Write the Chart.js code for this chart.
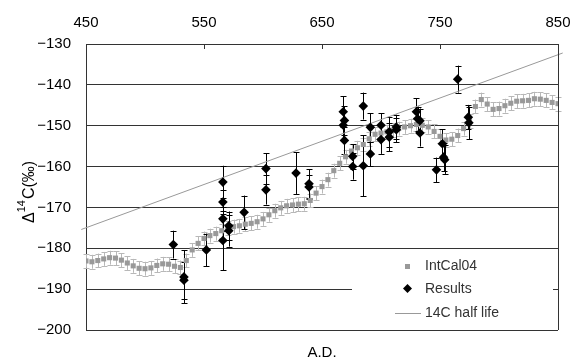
<!DOCTYPE html>
<html>
<head>
<meta charset="utf-8">
<script src="https://cdn.jsdelivr.net/npm/chart.js@4.4.1/dist/chart.umd.min.js"></script>
<style>
  body { margin: 0; background: #fff; }
  canvas { display: block; }
</style>
</head>
<body>
<canvas id="c14Chart" width="572" height="360"></canvas>
<script>
// IntCal04 calibration curve, every 5 years
const intcalYears = [
  450, 455, 460, 465, 470, 475, 480, 485, 490, 495,
  500, 505, 510, 515, 520, 525, 530, 535, 540, 545,
  550, 555, 560, 565, 570, 575, 580, 585, 590, 595,
  600, 605, 610, 615, 620, 625, 630, 635, 640, 645,
  650, 655, 660, 665, 670, 675, 680, 685, 690, 695,
  700, 705, 710, 715, 720, 725, 730, 735, 740, 745,
  750, 755, 760, 765, 770, 775, 780, 785, 790, 795,
  800, 805, 810, 815, 820, 825, 830, 835, 840, 845,
  850
];
const intcalValues = [
  -183.1, -183.3, -183.0, -182.6, -182.3, -182.4, -182.9, -183.6, -184.3, -184.9,
  -185.0, -184.8, -184.2, -183.8, -183.9, -184.4, -184.7, -183.0, -180.4, -178.8,
  -177.6, -176.9, -176.4, -175.7, -175.1, -174.7, -174.5, -174.1, -173.9, -173.5,
  -172.8, -171.8, -170.8, -170.1, -169.6, -169.4, -169.2, -169.1, -168.3, -166.5,
  -164.9, -163.2, -161.0, -159.2, -157.6, -156.2, -155.4, -154.6, -153.2, -152.1,
  -151.8, -151.5, -151.1, -150.7, -150.3, -150.0, -149.7, -149.9, -150.3, -151.4,
  -152.6, -153.5, -153.3, -152.4, -150.7, -148.8, -145.3, -143.6, -144.7, -146.0,
  -145.8, -145.1, -144.5, -144.0, -143.9, -143.8, -143.4, -143.5, -143.8, -144.3,
  -144.6
];
const intcalError = 1.7;

// measured results
const resultYears = [
  524, 533, 533, 552, 566, 566, 566, 566, 571, 571,
  584, 602.5, 602.5, 628, 639, 639, 668, 669, 668, 669,
  685, 676, 676, 685, 691, 691, 700, 700, 707, 707,
  713, 713, 730, 731, 733, 733, 747, 752, 753, 754,
  765, 774, 774.5
];
const resultValues = [
  -179.1, -187.0, -187.8, -180.4, -163.8, -168.7, -172.8, -178.1, -174.5, -175.7,
  -171.2, -160.5, -165.7, -161.6, -164.2, -165.0, -146.6, -148.7, -149.9, -153.6,
  -145.2, -157.5, -160.0, -159.8, -150.4, -156.9, -149.9, -153.4, -151.5, -152.8,
  -150.3, -151.0, -146.6, -148.3, -148.8, -151.8, -160.8, -154.4, -157.7, -158.3,
  -138.6, -147.9, -149.3
];
const resultErrors = [
  3.4, 6.5, 4.5, 4.0, 4.0, 3.0, 3.0, 7.3, 3.5, 3.9,
  4.1, 3.8, 3.6, 5.1, 3.5, 3.0, 3.8, 3.5, 3.5, 3.3,
  3.3, 3.0, 3.2, 7.5, 3.5, 3.0, 3.0, 3.5, 3.6, 3.4,
  3.0, 3.0, 3.3, 3.0, 3.0, 3.3, 3.0, 3.5, 3.5, 3.5,
  3.3, 3.0, 4.0
];

// 14C half life reference line
const halfLifeYears = [446, 854];
const halfLifeValues = [-175.4, -132.2];

const xTicks = [450, 550, 650, 750, 850];
const yMin = -200, yMax = -130;

const FONT = '"Liberation Sans", Arial, sans-serif';

function toPoints(xs, ys) {
  return xs.map((v, i) => ({ x: v, y: ys[i] }));
}

function drawErrorBars(ctx, xs, ys, xVals, yVals, errs, color) {
  ctx.save();
  ctx.strokeStyle = color;
  ctx.lineWidth = 1;
  ctx.beginPath();
  xVals.forEach((v, i) => {
    const px = Math.round(xs.getPixelForValue(v)) + 0.5;
    const top = ys.getPixelForValue(yVals[i] + errs[i]);
    const bot = ys.getPixelForValue(yVals[i] - errs[i]);
    ctx.moveTo(px, top); ctx.lineTo(px, bot);
    ctx.moveTo(px - 3, Math.round(top) + 0.5); ctx.lineTo(px + 3, Math.round(top) + 0.5);
    ctx.moveTo(px - 3, Math.round(bot) + 0.5); ctx.lineTo(px + 3, Math.round(bot) + 0.5);
  });
  ctx.stroke();
  ctx.restore();
}

const extras = {
  id: 'extras',
  beforeDatasetsDraw(chart) {
    const { ctx, scales: { x, y } } = chart;
    drawErrorBars(ctx, x, y, intcalYears, intcalValues, intcalYears.map(() => intcalError), '#b8b8b8');
    drawErrorBars(ctx, x, y, resultYears, resultValues, resultErrors, '#000');
  },
  afterDraw(chart) {
    const { ctx, chartArea: a, scales: { x } } = chart;
    ctx.save();
    // right frame line
    ctx.strokeStyle = '#333';
    ctx.lineWidth = 1;
    ctx.beginPath();
    ctx.moveTo(Math.round(a.right) + 0.5, a.top);
    ctx.lineTo(Math.round(a.right) + 0.5, a.bottom);
    // inner ticks on top axis
    xTicks.slice(1, -1).forEach(v => {
      const px = Math.round(x.getPixelForValue(v)) + 0.5;
      ctx.moveTo(px, a.top);
      ctx.lineTo(px, a.top + 5);
    });
    ctx.stroke();

    // legend box
    ctx.fillStyle = '#fff';
    ctx.fillRect(352, 253, 201, 70);
    ctx.font = '14px ' + FONT;
    ctx.textBaseline = 'middle';
    ctx.fillStyle = '#999';
    ctx.fillRect(405, 264, 5, 5);
    ctx.fillStyle = '#000';
    ctx.beginPath();
    ctx.moveTo(407.5, 284); ctx.lineTo(412, 288.5); ctx.lineTo(407.5, 293); ctx.lineTo(403, 288.5);
    ctx.closePath(); ctx.fill();
    ctx.strokeStyle = '#999';
    ctx.beginPath();
    ctx.moveTo(395, 313.5); ctx.lineTo(421, 313.5);
    ctx.stroke();
    ctx.fillStyle = '#333';
    ctx.fillText('IntCal04', 425, 266);
    ctx.fillText('Results', 425, 289);
    ctx.fillText('14C half life', 425, 313);

    // x title
    ctx.fillStyle = '#000';
    ctx.textAlign = 'center';
    ctx.textBaseline = 'alphabetic';
    ctx.font = '15px ' + FONT;
    ctx.fillText('A.D.', (a.left + a.right) / 2, 357);

    // y title, rotated, with superscript
    ctx.translate(34, 223);
    ctx.rotate(-Math.PI / 2);
    ctx.textAlign = 'left';
    ctx.font = '16px ' + FONT;
    ctx.fillText('\u0394', 0, 0);
    let w = ctx.measureText('\u0394').width;
    ctx.font = '11px ' + FONT;
    ctx.fillText('14', w, -9);
    w += ctx.measureText('14').width + 1;
    ctx.font = '16px ' + FONT;
    ctx.fillText('C(\u2030)', w, 0);
    ctx.restore();
  }
};

const ctx = document.getElementById('c14Chart').getContext('2d');
const chart = new Chart(ctx, {
  type: 'scatter',
  data: {
    datasets: [{
      label: 'IntCal04',
      data: toPoints(intcalYears, intcalValues),
      pointStyle: 'rect',
      pointRadius: 3.6,
      backgroundColor: '#999',
      borderWidth: 0,
      order: 2
    }, {
      label: 'Results',
      data: toPoints(resultYears, resultValues),
      pointStyle: 'rectRot',
      pointRadius: 4.8,
      backgroundColor: '#000',
      borderWidth: 0,
      order: 1
    }, {
      label: '14C half life',
      type: 'line',
      data: toPoints(halfLifeYears, halfLifeValues),
      borderColor: '#999',
      borderWidth: 1,
      pointRadius: 0,
      clip: false,
      order: 3
    }]
  },
  options: {
    responsive: false,
    animation: false,
    layout: { padding: { left: 0, right: 0, top: 0, bottom: 30 } },
    plugins: { legend: { display: false }, tooltip: { enabled: false } },
    scales: {
      x: {
        type: 'linear',
        position: 'top',
        min: 450,
        max: 850,
        afterBuildTicks: s => { s.ticks = xTicks.map(v => ({ value: v })); },
        afterFit: s => { s.height = 44; s.paddingLeft = 0; s.paddingRight = 14; },
        ticks: { color: '#000', font: { size: 15, family: FONT }, padding: 12, maxRotation: 0, autoSkip: false },
        grid: { drawOnChartArea: false, drawTicks: false },
        border: { color: '#333' }
      },
      y: {
        min: yMin,
        max: yMax,
        afterFit: s => { s.width = 86; },
        ticks: {
          stepSize: 10,
          padding: 15,
          color: '#000',
          font: { size: 15, family: FONT },
          callback: v => String(v).replace('-', '\u2212')
        },
        grid: { color: '#333', drawTicks: false },
        border: { color: '#333' }
      }
    }
  },
  plugins: [extras]
});
</script>
</body>
</html>
